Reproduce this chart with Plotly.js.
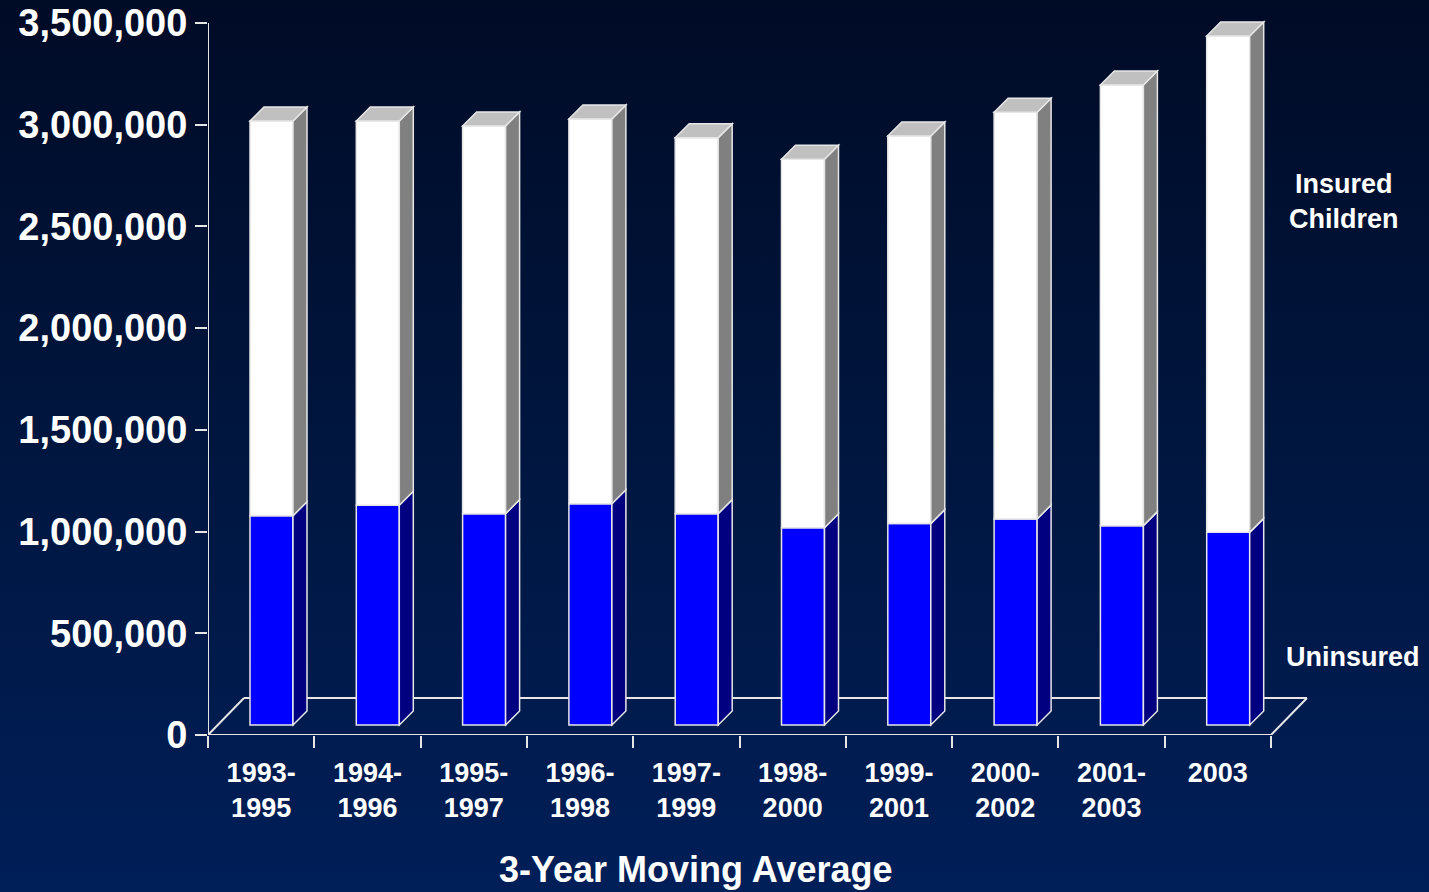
<!DOCTYPE html>
<html>
<head>
<meta charset="utf-8">
<script src="https://cdn.plot.ly/plotly-3.0.1.min.js"></script>
<style>
  html, body { margin: 0; padding: 0; }
  #chart {
    width: 1429px; height: 892px;
    background: linear-gradient(to bottom, #000b26 0%, #00163f 50%, #001e58 100%);
  }
</style>
</head>
<body>
<div id="chart"></div>
<script>
// ---- data ----
const categories = ['1993-<br>1995', '1994-<br>1996', '1995-<br>1997', '1996-<br>1998', '1997-<br>1999',
                    '1998-<br>2000', '1999-<br>2001', '2000-<br>2002', '2001-<br>2003', '2003'];
const uninsured = [1029000, 1080000, 1039000, 1088000, 1039000, 970000, 990000, 1013000, 980000, 947000];
const insured   = [1940000, 1889000, 1906000, 1891000, 1848000, 1811000, 1905000, 1999000, 2166000, 2440000];
const yTickVals = [0, 500000, 1000000, 1500000, 2000000, 2500000, 3000000, 3500000];
const seriesNames = ['Uninsured', 'Insured Children'];

// ---- geometry (pixels) ----
const W = 1429, H = 892;
const PL = 208, PR = 1320, PT = 10, PB = 735;
const CAT_PX = (1271 - 208) / categories.length;   // px per category
const VAL_PER_PX = 3500000 / 712;                    // value units per px
const xRange = [-0.5, -0.5 + (PR - PL) / CAT_PX];
const yRange = [0, (PB - PT) * VAL_PER_PX];
const px2x = p => p / CAT_PX;
const px2y = p => p * VAL_PER_PX;

const BAR_DEPTH_SHIFT = 10;   // bars stand 10px into the floor
const BAR_DEPTH = 14;         // depth of each bar
const FLOOR_DEPTH = 36;
const BAR_LEFT = 42, BAR_W = 43;

const barOffset = px2x(BAR_LEFT) - 0.5;
const barWidth = px2x(BAR_W);
const baseShift = px2y(BAR_DEPTH_SHIFT);
const dxb = px2x(BAR_DEPTH), dyb = px2y(BAR_DEPTH);
const outline = '#e6e6e6';

const xIdx = categories.map((c, i) => i);
const totals = uninsured.map((u, i) => u + insured[i]);

const traces = [
  {
    type: 'bar', name: seriesNames[0], x: categories, y: uninsured,
    base: uninsured.map(() => baseShift),
    offset: barOffset, width: barWidth,
    marker: {color: '#0000ff', line: {color: outline, width: 1.5}},
    hoverinfo: 'skip'
  },
  {
    type: 'bar', name: seriesNames[1], x: categories, y: insured,
    base: uninsured.map(u => baseShift + u),
    offset: barOffset, width: barWidth,
    marker: {color: '#ffffff', line: {color: outline, width: 1.5}},
    hoverinfo: 'skip'
  }
];

const shapes = [];
const poly = (pts, fill, layer) => {
  let d = 'M' + pts.map(p => p[0] + ',' + p[1]).join(' L') + ' Z';
  shapes.push({type: 'path', xref: 'x', yref: 'y', path: d, fillcolor: fill,
               line: {color: outline, width: 1.5}, layer: layer || 'above'});
};
const line = (x0, y0, x1, y1) => shapes.push({type: 'line', xref: 'x', yref: 'y',
  x0, y0, x1, y1, line: {color: '#e6e6e6', width: 2}, layer: 'below'});

// floor and axis lines
const fdx = px2x(FLOOR_DEPTH), fdy = px2y(FLOOR_DEPTH + 1);
const x0 = -0.5, x1 = categories.length - 0.5;
line(x0, 0, x0 + fdx, fdy);
line(x0 + fdx, fdy, x1 + fdx, fdy);
line(x1, 0, x1 + fdx, fdy);
line(x0, 0, x1, 0);
line(x0, 0, x0, yTickVals[yTickVals.length - 1]);

// side and top faces
xIdx.forEach(i => {
  const xl = i + barOffset, xr = xl + barWidth;
  const b0 = baseShift, b1 = baseShift + uninsured[i], b2 = baseShift + totals[i];
  poly([[xr, b0], [xr, b1], [xr + dxb, b1 + dyb], [xr + dxb, b0 + dyb]], '#000080');
  poly([[xr, b1], [xr, b2], [xr + dxb, b2 + dyb], [xr + dxb, b1 + dyb]], '#808080');
  poly([[xl, b2], [xr, b2], [xr + dxb, b2 + dyb], [xl + dxb, b2 + dyb]], '#c0c0c0');
});

const font = {family: 'Liberation Sans, Arial, sans-serif', color: '#ffffff', weight: 'bold'};
const pxX = p => (p - PL) / (PR - PL);
const pxY = p => (PB - p) / (PB - PT);

const layout = {
  width: W, height: H,
  margin: {l: PL, r: W - PR, t: PT, b: H - PB},
  paper_bgcolor: 'rgba(0,0,0,0)', plot_bgcolor: 'rgba(0,0,0,0)',
  barmode: 'overlay', showlegend: false,
  xaxis: {
    type: 'category', range: xRange, showgrid: false, zeroline: false, showline: false,
    ticks: 'outside', tickson: 'boundaries', ticklen: 12, tickwidth: 2, tickcolor: '#e6e6e6',
    ticklabelstandoff: 19,
    tickfont: Object.assign({}, font, {size: 27}), fixedrange: true
  },
  yaxis: {
    range: yRange, showgrid: false, zeroline: false, showline: false,
    tickvals: yTickVals, tickformat: ',d', ticks: 'outside', ticklen: 12, tickwidth: 2,
    tickcolor: '#e6e6e6', ticklabelstandoff: 0,
    tickfont: Object.assign({}, font, {size: 38}), fixedrange: true
  },
  shapes: shapes,
  annotations: [
    {xref: 'paper', yref: 'paper', x: pxX(1344), y: pxY(201), xanchor: 'center', yanchor: 'middle',
     text: 'Insured<br>Children', showarrow: false, font: Object.assign({}, font, {size: 27}), align: 'center'},
    {xref: 'paper', yref: 'paper', x: pxX(1353), y: pxY(657), xanchor: 'center', yanchor: 'middle',
     text: 'Uninsured', showarrow: false, font: Object.assign({}, font, {size: 27})},
    {xref: 'paper', yref: 'paper', x: pxX(696), y: pxY(869), xanchor: 'center', yanchor: 'middle',
     text: '3-Year Moving Average', showarrow: false, font: Object.assign({}, font, {size: 36})}
  ]
};

Plotly.newPlot('chart', traces, layout, {displayModeBar: false, staticPlot: true});
</script>
</body>
</html>
